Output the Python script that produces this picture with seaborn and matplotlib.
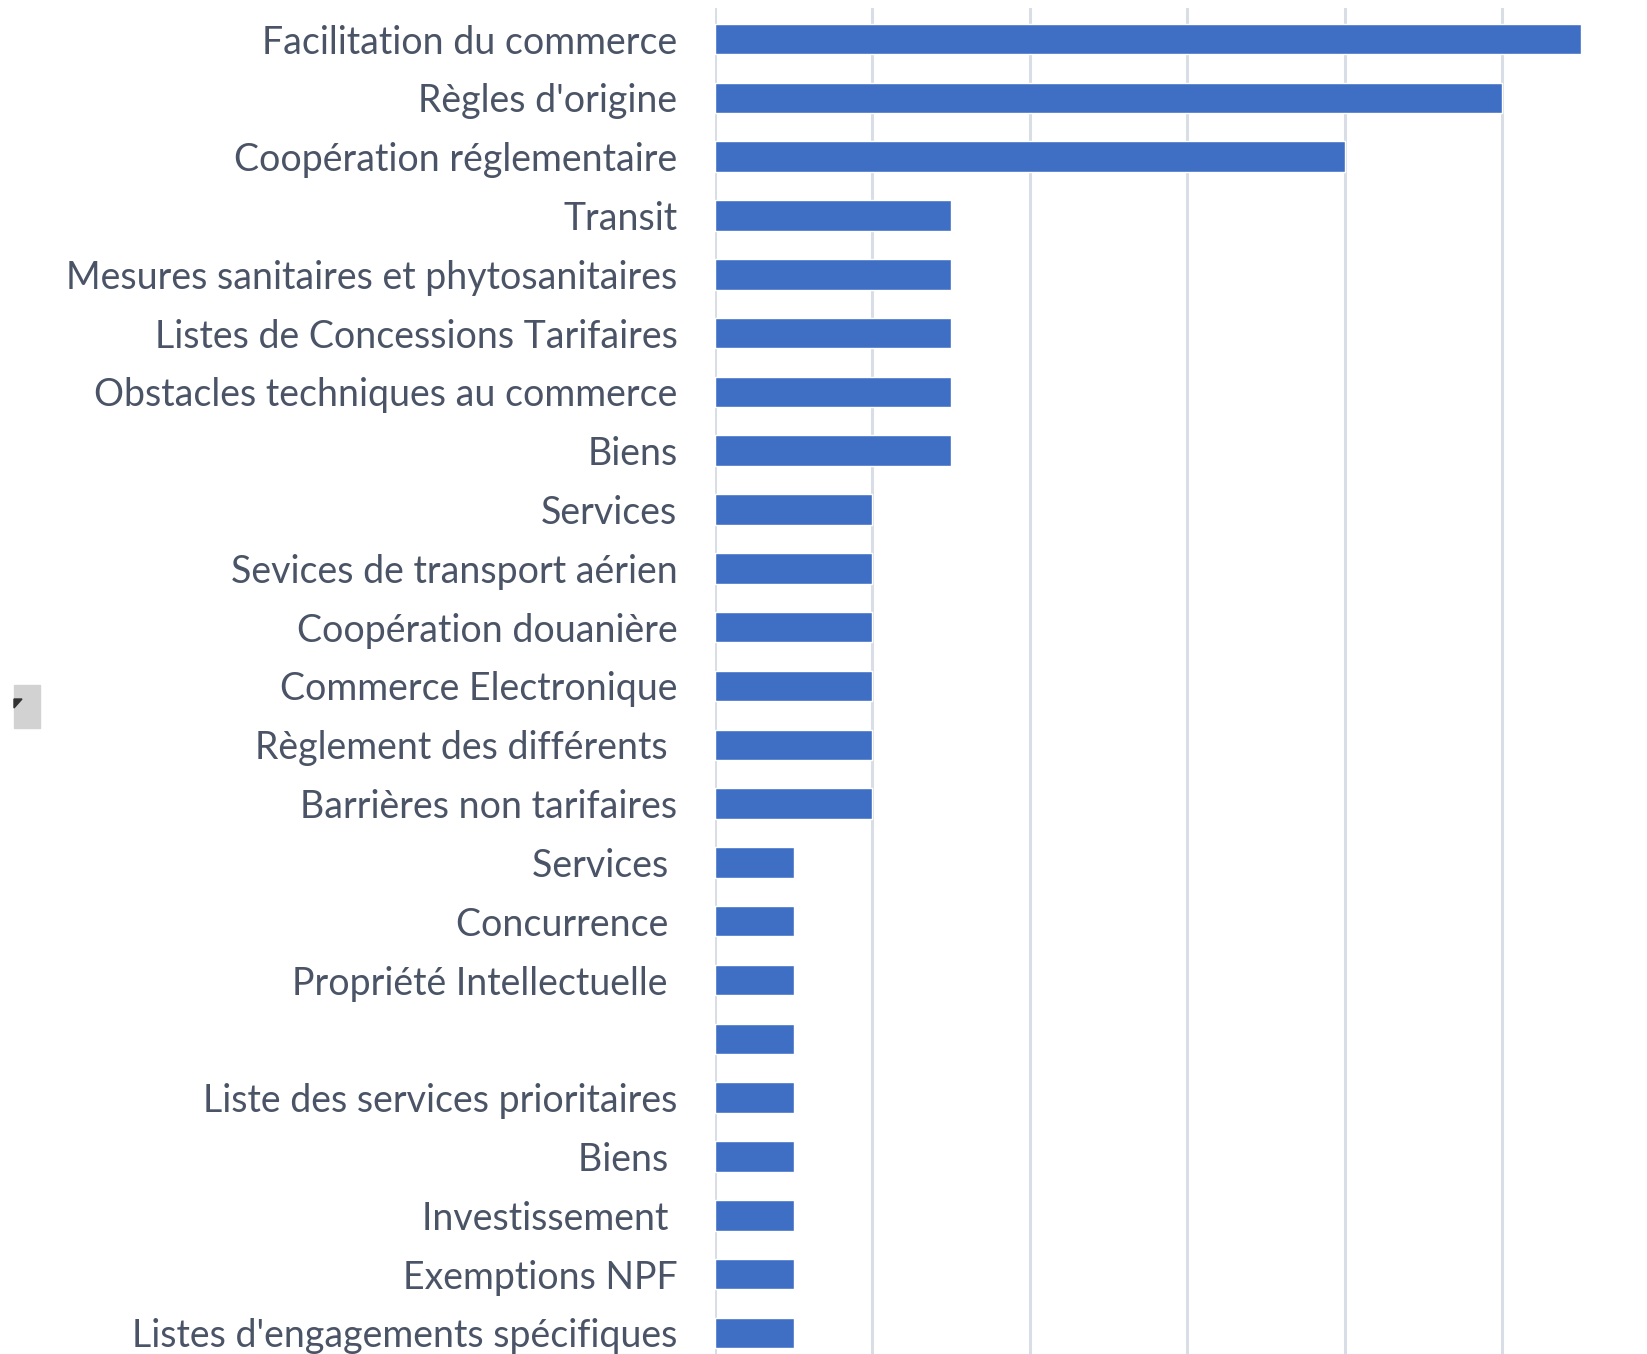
import matplotlib
matplotlib.use("Agg")
import matplotlib.pyplot as plt
import matplotlib.patches as mpatches
import pandas as pd
import seaborn as sns

# ─── Data ─────────────────────────────────────────────────────────────────────

LABELS = [
    "Facilitation du commerce",
    "Règles d'origine",
    "Coopération réglementaire",
    "Transit",
    "Mesures sanitaires et phytosanitaires",
    "Listes de Concessions Tarifaires",
    "Obstacles techniques au commerce",
    "Biens",
    "Services",
    "Sevices de transport aérien",
    "Coopération douanière",
    "Commerce Electronique",
    "Règlement des différents ",
    "Barrières non tarifaires",
    "Services ",
    "Concurrence ",
    "Propriété Intellectuelle ",
    "",
    "Liste des services prioritaires",
    "Biens ",
    "Investissement ",
    "Exemptions NPF",
    "Listes d'engagements spécifiques",
]
VALUES = [11, 10, 8, 3, 3, 3, 3, 3, 2, 2, 2, 2, 2, 2, 1, 1, 1, 1, 1, 1, 1, 1, 1]

BAR_COLOR  = "#3F6EC5"
GRID_COLOR = "#D9DEE6"
TEXT_COLOR = "#4A5466"

# ─── Plot ─────────────────────────────────────────────────────────────────────

sns.set_style("white")
plt.rcParams["font.family"] = ["Lato", "DejaVu Sans"]

df = pd.DataFrame({"key": [str(i) for i in range(len(LABELS))], "value": VALUES})

fig = plt.figure(figsize=(16.47, 13.54), dpi=100)
ax = fig.add_axes([715 / 1647, 0.0, 1 - 715 / 1647, 1 - 8 / 1354])

sns.barplot(data=df, x="value", y="key", orient="h", order=list(df["key"]),
            color=BAR_COLOR, saturation=1, width=0.52, ax=ax, zorder=3)

ax.set_xlim(0, 11.84)
ax.set_ylim(22.36, -0.53)
ax.set_xticks(range(0, 12, 2))
ax.set_xticklabels([])
ax.grid(axis="x", color=GRID_COLOR, lw=2.2, zorder=0)
ax.set_axisbelow(True)
ax.set_yticks(range(len(LABELS)))
ax.set_yticklabels(LABELS, fontsize=27, color=TEXT_COLOR)
ax.tick_params(axis="y", length=0, pad=27)
ax.tick_params(axis="x", length=0)
ax.set_xlabel("")
ax.set_ylabel("")
for s in ax.spines.values():
    s.set_visible(False)

# small grey handle at the left edge
fig.patches.append(mpatches.Rectangle((14 / 1647, 1 - 728 / 1354), 26 / 1647, 43 / 1354,
                                      transform=fig.transFigure, color="#D2D2D2"))
fig.patches.append(mpatches.Polygon([(14 / 1647, 1 - 699 / 1354), (22 / 1647, 1 - 699 / 1354),
                                     (14 / 1647, 1 - 708 / 1354)],
                                    transform=fig.transFigure, color="#333333"))

fig.savefig("out.png", dpi=100)
